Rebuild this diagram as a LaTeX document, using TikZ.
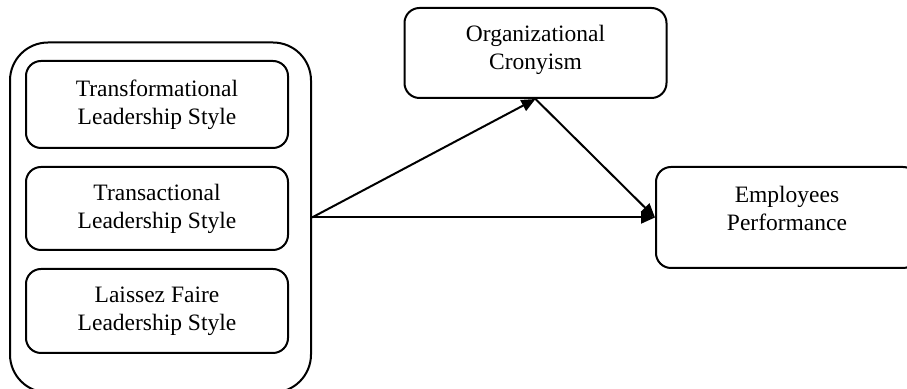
\documentclass[tikz,border=0pt]{standalone}
\usepackage{fontspec}
\setmainfont{Liberation Serif}
\usetikzlibrary{arrows.meta}

\begin{document}
\begin{tikzpicture}[x=0.5pt, y=-0.5pt, line width=1pt,
  stylebox/.style={draw, rounded corners=7.5pt, align=center,
    minimum width=131pt, inner sep=0pt,
    font=\fontsize{11.75}{14}\selectfont},
  linkarrow/.style={-{Triangle[length=7pt, width=6pt]}}]

  % page frame (the figure is cut at the bottom and right)
  \useasboundingbox (0,0) rectangle (907,389);
  \clip (0,0) rectangle (907,389);

  % outer group of leadership styles
  \node[draw, rounded corners=19pt, minimum width=150.5pt,
    minimum height=175pt] (group) at (160.5,217.5) {};

  % the three leadership styles
  \node[stylebox, minimum height=43.5pt] (transform) at (157,104.5)
    {Transformational\\Leadership Style};
  \node[stylebox, minimum height=41.5pt] (transact) at (157,208.5)
    {Transactional\\Leadership Style};
  \node[stylebox, minimum height=42pt] (laissez) at (157,311)
    {Laissez Faire\\Leadership Style};

  % mediator and outcome
  \node[stylebox, minimum height=45pt, text depth=5.5pt] (crony)
    at (535.5,53) {Organizational\\Cronyism};
  \node[stylebox, minimum height=50.5pt, text depth=9.5pt] (perform)
    at (787,217.5) {Employees\\Performance};

  % paths
  \draw[linkarrow] (group.east) -- (crony.south);
  \draw[linkarrow] (crony.south) -- (perform.west);
  \draw[linkarrow] (group.east) -- (perform.west);

\end{tikzpicture}
\end{document}
